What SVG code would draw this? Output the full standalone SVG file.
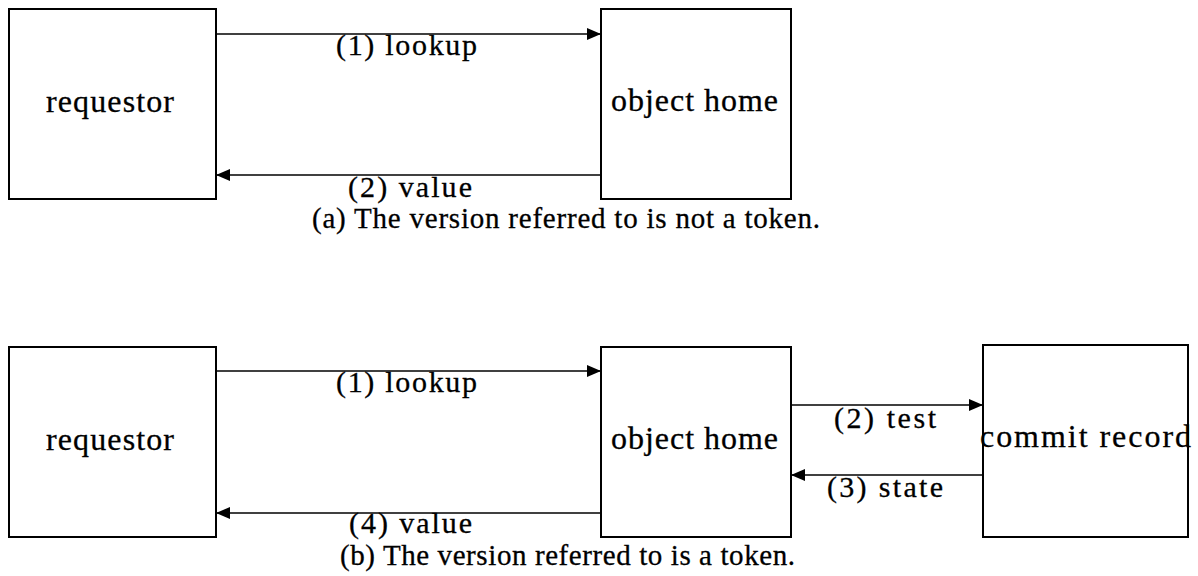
<svg xmlns="http://www.w3.org/2000/svg" width="1198" height="576" viewBox="0 0 1198 576">
  <style>
    .box { fill: #ffffff; stroke: #000000; stroke-width: 2; }
    .lbl { font-family: "Liberation Serif", "Times New Roman", serif; font-size: 32px; fill: #000000; stroke: #000000; stroke-width: 0.3; }
    .elbl { font-family: "Liberation Serif", "Times New Roman", serif; font-size: 30px; fill: #000000; stroke: #000000; stroke-width: 0.3; }
    .cap { font-family: "Liberation Serif", "Times New Roman", serif; font-size: 29px; fill: #000000; stroke: #000000; stroke-width: 0.3; }
    .edge { stroke: #000000; stroke-width: 1.6; fill: none; marker-end: url(#arrow); }
  </style>
  <defs>
    <marker id="arrow" markerUnits="userSpaceOnUse" markerWidth="14" markerHeight="12" refX="14" refY="6" orient="auto">
      <path d="M0,0 L14,6 L0,12 Z" fill="#000000"/>
    </marker>
  </defs>
  <rect width="1198" height="576" fill="#ffffff"/>

  <!-- Part (a) -->
  <g id="a-requestor">
    <rect class="box" x="9" y="9" width="207" height="190"/>
    <text class="lbl" x="46" y="112" textLength="128" lengthAdjust="spacing">requestor</text>
  </g>
  <g id="a-object-home">
    <rect class="box" x="601" y="9" width="190" height="190"/>
    <text class="lbl" x="611" y="111" textLength="167" lengthAdjust="spacing">object home</text>
  </g>
  <g id="a-connectors">
    <line class="edge" x1="216" y1="34" x2="601" y2="34"/>
    <line class="edge" x1="601" y1="175" x2="216" y2="175"/>
  </g>
  <g id="a-labels">
    <text class="elbl" x="336" y="55" textLength="141" lengthAdjust="spacing">(1) lookup</text>
    <text class="elbl" x="348" y="197" textLength="124" lengthAdjust="spacing">(2) value</text>
    <text class="cap" x="312" y="228" textLength="508" lengthAdjust="spacing">(a) The version referred to is not a token.</text>
  </g>

  <!-- Part (b) -->
  <g id="b-requestor">
    <rect class="box" x="9" y="347" width="207" height="190"/>
    <text class="lbl" x="46" y="450" textLength="128" lengthAdjust="spacing">requestor</text>
  </g>
  <g id="b-object-home">
    <rect class="box" x="601" y="347" width="190" height="190"/>
    <text class="lbl" x="611" y="449" textLength="167" lengthAdjust="spacing">object home</text>
  </g>
  <g id="b-commit-record">
    <rect class="box" x="983" y="345" width="205" height="192"/>
    <text class="lbl" x="980" y="447" textLength="211" lengthAdjust="spacing">commit record</text>
  </g>
  <g id="b-connectors">
    <line class="edge" x1="216" y1="371" x2="601" y2="371"/>
    <line class="edge" x1="791" y1="405" x2="983" y2="405"/>
    <line class="edge" x1="983" y1="475" x2="791" y2="475"/>
    <line class="edge" x1="601" y1="513" x2="216" y2="513"/>
  </g>
  <g id="b-labels">
    <text class="elbl" x="336" y="392" textLength="141" lengthAdjust="spacing">(1) lookup</text>
    <text class="elbl" x="834" y="428" textLength="102" lengthAdjust="spacing">(2) test</text>
    <text class="elbl" x="827" y="497" textLength="116" lengthAdjust="spacing">(3) state</text>
    <text class="elbl" x="349" y="533" textLength="123" lengthAdjust="spacing">(4) value</text>
    <text class="cap" x="340" y="565" textLength="455" lengthAdjust="spacing">(b) The version referred to is a token.</text>
  </g>
</svg>
